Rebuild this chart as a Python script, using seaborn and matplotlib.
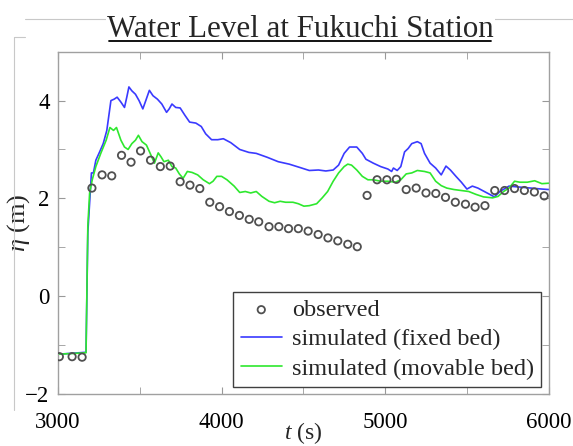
import matplotlib
matplotlib.use("Agg")
import matplotlib.pyplot as plt
from matplotlib.lines import Line2D
from matplotlib.ticker import MultipleLocator
import pandas as pd
import seaborn as sns

# observed water level
obs_t = [3009, 3087, 3148, 3208, 3270, 3329, 3389, 3447, 3505, 3566,
         3626, 3686, 3747, 3807, 3867, 3928, 3988, 4048, 4109, 4169,
         4227, 4290, 4350, 4409, 4469, 4529, 4590, 4650, 4710, 4771,
         4829, 4889, 4950, 5010, 5068, 5128, 5189, 5249, 5309, 5368,
         5428, 5490, 5549, 5609, 5669, 5729, 5790, 5850, 5911, 5971]
obs_eta = [-1.24, -1.24, -1.25, 2.21, 2.48, 2.46, 2.88, 2.74, 2.97, 2.78,
           2.65, 2.66, 2.34, 2.27, 2.20, 1.92, 1.83, 1.73, 1.65, 1.57,
           1.52, 1.42, 1.42, 1.38, 1.38, 1.33, 1.26, 1.19, 1.13, 1.06,
           1.01, 2.06, 2.38, 2.38, 2.39, 2.18, 2.21, 2.11, 2.10, 2.02,
           1.92, 1.88, 1.82, 1.85, 2.16, 2.16, 2.20, 2.16, 2.13, 2.05]

# simulated, fixed bed
fix_t = [3000, 3172, 3183, 3205, 3217, 3232, 3255, 3277, 3299, 3324,
         3344, 3362, 3385, 3407, 3421, 3434, 3452, 3474, 3496, 3519,
         3537, 3559, 3581, 3608, 3635, 3664, 3680, 3697, 3720, 3747,
         3776, 3805, 3843, 3876, 3903, 3939, 3977, 4011, 4056, 4111,
         4167, 4212, 4279, 4346, 4413, 4480, 4536, 4592, 4637, 4682,
         4715, 4749, 4782, 4826, 4860, 4882, 4927, 4972, 5016, 5039,
         5050, 5073, 5095, 5118, 5140, 5162, 5196, 5219, 5240, 5274,
         5308, 5342, 5371, 5398, 5432, 5465, 5499, 5532, 5566, 5622,
         5667, 5700, 5756, 5823, 5890, 5957, 6000]
fix_eta = [-1.19, -1.15, 1.30, 2.52, 2.52, 2.78, 2.95, 3.12, 3.39, 4.00,
           4.03, 4.07, 3.97, 3.86, 4.07, 4.28, 4.20, 4.13, 4.00, 3.83,
           4.00, 4.21, 4.10, 4.03, 3.93, 3.76, 3.83, 3.93, 3.86, 3.85,
           3.70, 3.56, 3.54, 3.47, 3.32, 3.20, 3.20, 3.22, 3.14, 3.00,
           2.94, 2.92, 2.84, 2.75, 2.70, 2.63, 2.57, 2.58, 2.56, 2.58,
           2.68, 2.92, 3.05, 3.05, 2.92, 2.80, 2.72, 2.65, 2.60, 2.55,
           2.62, 2.57, 2.65, 2.95, 3.02, 3.12, 3.16, 3.12, 2.92, 2.72,
           2.62, 2.48, 2.66, 2.58, 2.45, 2.33, 2.19, 2.25, 2.21, 2.11,
           2.03, 2.14, 2.25, 2.23, 2.21, 2.19, 2.18]

# simulated, movable bed
mov_t = [3000, 3172, 3183, 3194, 3210, 3232, 3262, 3295, 3318, 3340,
         3358, 3385, 3407, 3429, 3452, 3474, 3492, 3514, 3541, 3564,
         3590, 3613, 3630, 3648, 3675, 3697, 3720, 3742, 3765, 3791,
         3820, 3854, 3888, 3926, 3948, 3971, 4000, 4033, 4077, 4111,
         4145, 4178, 4212, 4246, 4290, 4324, 4358, 4391, 4436, 4469,
         4503, 4536, 4581, 4615, 4648, 4682, 4715, 4749, 4771, 4794,
         4826, 4860, 4894, 4927, 4972, 5016, 5061, 5095, 5128, 5162,
         5196, 5240, 5274, 5308, 5342, 5376, 5420, 5465, 5510, 5555,
         5600, 5656, 5689, 5723, 5756, 5790, 5823, 5868, 5913, 5957, 6000]
mov_eta = [-1.19, -1.16, 1.44, 2.11, 2.38, 2.65, 2.92, 3.19, 3.45, 3.39,
           3.45, 3.19, 3.05, 3.00, 3.12, 3.19, 3.29, 3.16, 3.09, 2.92,
           2.72, 2.93, 2.85, 2.75, 2.78, 2.65, 2.62, 2.50, 2.41, 2.55,
           2.53, 2.48, 2.38, 2.30, 2.35, 2.45, 2.45, 2.38, 2.25, 2.12,
           2.14, 2.11, 2.14, 2.04, 1.94, 1.91, 1.94, 1.92, 1.92, 1.89,
           1.84, 1.85, 1.89, 2.01, 2.14, 2.35, 2.52, 2.65, 2.70, 2.68,
           2.58, 2.45, 2.38, 2.38, 2.35, 2.35, 2.33, 2.38, 2.50, 2.52,
           2.57, 2.55, 2.52, 2.35, 2.26, 2.21, 2.18, 2.16, 2.14, 2.08,
           2.03, 2.01, 2.04, 2.14, 2.21, 2.35, 2.33, 2.33, 2.36, 2.30, 2.31]

sns.set_style("ticks")
plt.rcParams['font.family'] = ['Liberation Serif', 'DejaVu Serif']
plt.rcParams['mathtext.fontset'] = 'custom'
plt.rcParams['mathtext.rm'] = 'Liberation Serif'
plt.rcParams['mathtext.it'] = 'Liberation Serif:italic'

df_obs = pd.DataFrame({'t': obs_t, 'eta': obs_eta})
df_fix = pd.DataFrame({'t': fix_t, 'eta': fix_eta})
df_mov = pd.DataFrame({'t': mov_t, 'eta': mov_eta})

fig = plt.figure(figsize=(5.73, 4.46), dpi=100)
ax = fig.add_axes([0.101, 0.117, 0.857, 0.767])

sns.lineplot(data=df_fix, x='t', y='eta', ax=ax, color='#3a3aff', lw=1.2,
             label='simulated (fixed bed)', zorder=2)
sns.lineplot(data=df_mov, x='t', y='eta', ax=ax, color='#2ee82e', lw=1.2,
             label='simulated (movable bed)', zorder=2)
sns.scatterplot(data=df_obs, x='t', y='eta', ax=ax, marker='o', s=28,
                facecolor='none', edgecolor='#505050', linewidth=1.3,
                label='observed', zorder=3)

ax.set_xlim(3000, 6000)
ax.set_ylim(-2, 5)
ax.set_yticks([-2, 0, 2, 4])
ax.yaxis.set_minor_locator(MultipleLocator(1))
ax.xaxis.set_major_locator(MultipleLocator(1000))
ax.xaxis.set_minor_locator(MultipleLocator(500))
ax.tick_params(which='both', direction='in', top=True, right=True,
               color='#999999', labelsize=16.5, labelcolor='black', length=5)
ax.tick_params(axis='x', which='major', pad=13)
ax.tick_params(axis='y', which='major', pad=6)
for sp in ax.spines.values():
    sp.set_color('#a0a0a0')
    sp.set_linewidth(1.0)

ax.set_xlabel(r'$t$ (s)', fontsize=17, va='top')
ax.set_ylabel(r'$\eta$ (m)', fontsize=19)
ax.xaxis.set_label_coords(0.5, -0.077)
ax.yaxis.set_label_coords(-0.052, 0.5)

h, l = ax.get_legend_handles_labels()
order = [l.index('observed'), l.index('simulated (fixed bed)'),
         l.index('simulated (movable bed)')]
leg = ax.legend([h[i] for i in order], [l[i] for i in order],
                loc='lower right', bbox_to_anchor=(0.984, 0.02),
                fontsize=17.5, frameon=True, fancybox=False, framealpha=1,
                edgecolor='#404040', labelspacing=0.3, handlelength=1.7,
                borderpad=0.3, handletextpad=0.4, borderaxespad=0)
leg.get_frame().set_linewidth(1.0)

title = fig.text(0.524, 0.917, 'Water Level at Fukuchi Station',
                 ha='center', va='baseline', fontsize=22.3, zorder=5,
                 bbox=dict(facecolor='white', edgecolor='none', pad=1))

# underline the title
fig.canvas.draw()
bb = title.get_window_extent().transformed(fig.transFigure.inverted())
fig.add_artist(Line2D([bb.x0 + 0.004, bb.x1 - 0.004], [0.907, 0.907],
                      color='black', lw=1.3, zorder=6))

# faint outer frame lines seen in the reference
fig.add_artist(Line2D([0.044, 1.0], [0.957, 0.957], color='#c8c8c8', lw=0.8, zorder=1))
fig.add_artist(Line2D([0.024, 0.044], [0.917, 0.917], color='#c8c8c8', lw=0.8))
fig.add_artist(Line2D([0.024, 0.024], [0.08, 0.917], color='#c8c8c8', lw=0.8))

fig.savefig('out.png', dpi=100)
